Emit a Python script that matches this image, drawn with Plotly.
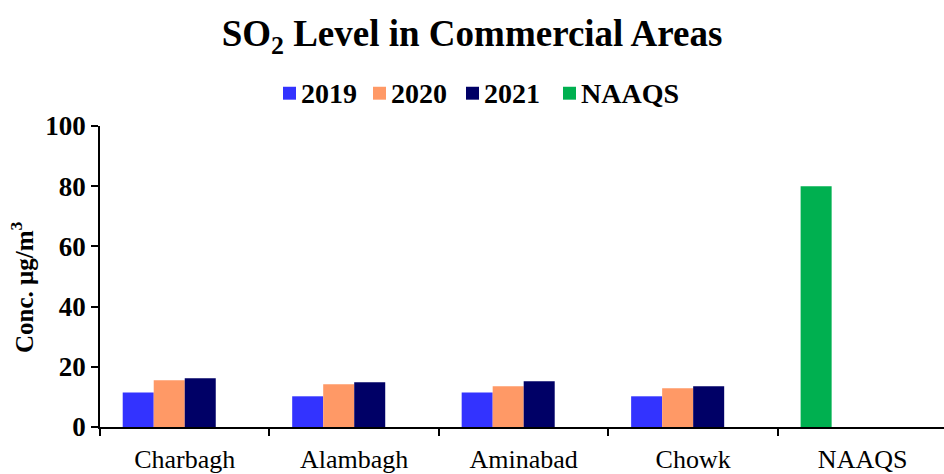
import plotly.graph_objects as go

# SO2 concentrations (µg/m³) at commercial sites, by year
sites = ["Charbagh", "Alambagh", "Aminabad", "Chowk", "NAAQS"]
so2_2019 = [11.5, 10.2, 11.5, 10.2, None]
so2_2020 = [15.5, 14.2, 13.5, 12.9, None]
so2_2021 = [16.2, 14.9, 15.2, 13.5, None]
naaqs_limit = [None, None, None, None, 80]

series_names = ["2019", "2020", "2021", "NAAQS"]
series_values = [so2_2019, so2_2020, so2_2021, naaqs_limit]
series_colors = ["#3333FF", "#FF9966", "#000066", "#00B050"]

FONT = "Liberation Serif"
BAR_W = 0.183
# slot offsets within a category; the limit bar sits in the first slot of its own category
series_offsets = [-2 * BAR_W, -1 * BAR_W, 0.0, -2 * BAR_W]

W, H = 944, 474
ML, MR, MT, MB = 100, 0, 126, 45
PW, PH = W - ML - MR, H - MT - MB

fig = go.Figure()
for name, vals, col, off in zip(series_names, series_values, series_colors, series_offsets):
    fig.add_trace(go.Bar(x=sites, y=vals, name=name, marker_color=col,
                         marker_line_width=0, width=BAR_W, offset=off, showlegend=False))

# Horizontal legend row: colour swatch followed by bold label
LEG_SIZE = 28
LEG_Y_PX = 93
SW = 13
swatch_left_px = [283, 373, 466, 563]
for name, col, x_px in zip(series_names, series_colors, swatch_left_px):
    yc = (H - MB - LEG_Y_PX) / PH
    half = (SW / 2) / PH
    fig.add_shape(type="rect", xref="paper", yref="paper",
                  x0=(x_px - ML) / PW, x1=(x_px + SW - ML) / PW,
                  y0=yc - half, y1=yc + half, fillcolor=col, line_width=0)
    fig.add_annotation(xref="paper", yref="paper", x=(x_px + SW + 3 - ML) / PW, y=yc,
                       xanchor="left", yanchor="middle", showarrow=False,
                       text=f"<b>{name}</b>",
                       font=dict(size=LEG_SIZE, family=FONT, color="black"))

# Y-axis title, set slightly below the plot's vertical centre
fig.add_annotation(xref="paper", yref="paper", x=(22 - ML) / PW, y=(H - MB - 288) / PH,
                   xanchor="center", yanchor="middle", showarrow=False, textangle=-90,
                   text="<b>Conc. μg/m<sup>3</sup></b>",
                   font=dict(size=25, family=FONT, color="black"))

fig.update_layout(
    width=W, height=H,
    margin=dict(l=ML, r=MR, t=MT, b=MB),
    paper_bgcolor="white", plot_bgcolor="white",
    barmode="overlay",
    font=dict(family=FONT, color="black"),
    title=dict(text="<b>SO<sub>2</sub> Level in Commercial Areas</b>",
               x=0.5, xanchor="center", y=0.93, yanchor="middle",
               font=dict(size=37, family=FONT, color="black")),
    showlegend=False,
)

fig.update_xaxes(
    range=[-0.5, 4.48],
    showline=True, linecolor="black", linewidth=1.5,
    ticks="outside", tickson="boundaries", ticklen=7, tickwidth=1.5, tickcolor="black",
    tickfont=dict(size=26, family=FONT, color="black"),
    ticklabelstandoff=8,
    showgrid=False,
)
fig.update_yaxes(
    range=[0, 100], dtick=20,
    showline=True, linecolor="black", linewidth=1.5,
    ticks="outside", ticklen=7, tickwidth=1.5, tickcolor="black",
    tickfont=dict(size=27, family=FONT, color="black"),
    tickprefix="<b>", ticksuffix="</b>",
    showgrid=False, zeroline=False,
)

fig.write_html("out.html")
